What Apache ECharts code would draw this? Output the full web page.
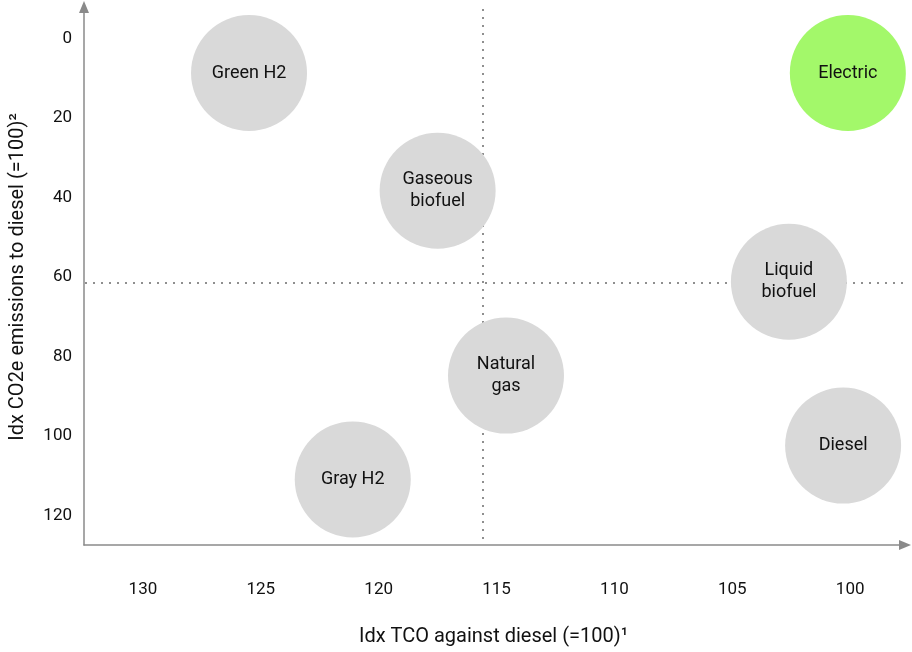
<!DOCTYPE html>
<html>
<head>
<meta charset="utf-8">
<script src="https://cdn.jsdelivr.net/npm/echarts@6/dist/echarts.min.js"></script>
<style>
html,body{margin:0;padding:0;background:#fff;}
#chart{width:912px;height:652px;}
</style>
</head>
<body>
<div id="chart"></div>
<script>
const names = ['Green H2', 'Electric', 'Gaseous\nbiofuel', 'Liquid\nbiofuel', 'Natural\ngas', 'Diesel', 'Gray H2'];
const tco = [125.5, 100.1, 117.5, 102.6, 114.6, 100.3, 121.1];
const co2 = [8.7, 8.7, 38.3, 61.2, 84.8, 102.4, 110.9];
const xTicks = [130, 125, 120, 115, 110, 105, 100];
const yTicks = [0, 20, 40, 60, 80, 100, 120];
const refTco = [115.6];
const refCo2 = [61.5];
const highlight = ['Electric'];

const FONT = 'Roboto';
const GRAY = '#d9d9d9';
const GREEN = '#a3f86a';
const AXIS = '#8a8a8a';

const chart = echarts.init(document.getElementById('chart'), null, {renderer: 'canvas'});

const bubbles = names.map((n, i) => ({
  name: n,
  value: [tco[i], co2[i]],
  itemStyle: {color: highlight.indexOf(n) >= 0 ? GREEN : GRAY, opacity: 1}
}));

chart.setOption({
  animation: false,
  backgroundColor: '#fff',
  textStyle: {fontFamily: FONT},
  grid: {left: 82, right: 9, top: 9, bottom: 106.5, containLabel: false},
  xAxis: {
    type: 'value',
    inverse: true,
    min: 97.76,
    max: 132.5,
    name: 'Idx TCO against diesel (=100)\u00B9',
    nameLocation: 'middle',
    nameGap: 82,
    nameTextStyle: {fontSize: 20, color: '#111', fontFamily: FONT},
    axisLine: {show: true, onZero: false, lineStyle: {color: AXIS, width: 1.5}, symbol: ['none', 'triangle'], symbolSize: [10, 12], symbolOffset: [0, 2]},
    axisTick: {show: false},
    splitLine: {show: false},
    axisLabel: {customValues: xTicks, margin: 36, fontSize: 17, color: '#111', fontFamily: FONT}
  },
  yAxis: {
    type: 'value',
    inverse: true,
    min: -7.4,
    max: 127.4,
    name: 'Idx CO2e emissions to diesel (=100)\u00B2',
    nameLocation: 'middle',
    nameGap: 56,
    nameRotate: 90,
    nameTextStyle: {fontSize: 20, color: '#111', fontFamily: FONT},
    axisLine: {show: true, onZero: false, lineStyle: {color: AXIS, width: 1.5}, symbol: ['none', 'triangle'], symbolSize: [10, 12], symbolOffset: [0, 2]},
    axisTick: {show: false},
    splitLine: {show: false},
    axisLabel: {customValues: yTicks, margin: 12, fontSize: 17, color: '#111', fontFamily: FONT}
  },
  series: [
    {
      type: 'scatter',
      data: [],
      z: 1,
      silent: true,
      markLine: {
        silent: true,
        symbol: ['none', 'none'],
        label: {show: false},
        lineStyle: {type: [2, 6], color: '#8f8f8f', width: 2},
        emphasis: {disabled: true},
        data: [
          {xAxis: refTco[0]},
          {yAxis: refCo2[0]}
        ]
      }
    },
    {
      type: 'scatter',
      z: 5,
      symbol: 'circle',
      symbolSize: 116,
      itemStyle: {opacity: 1},
      data: bubbles,
      label: {
        show: true,
        position: 'inside',
        formatter: '{b}',
        fontSize: 18,
        lineHeight: 22,
        color: '#111',
        fontFamily: FONT
      },
      emphasis: {disabled: true}
    }
  ]
});
</script>
</body>
</html>
